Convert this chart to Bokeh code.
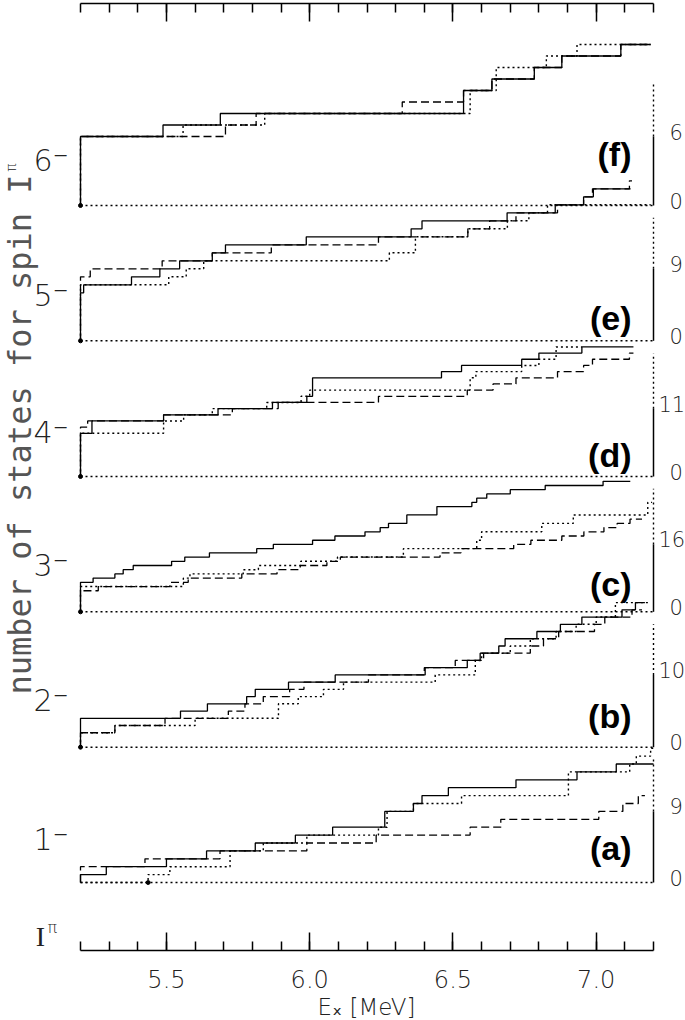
import math
from bokeh.plotting import figure
from bokeh.models import Range1d, LinearAxis, FixedTicker, Label, Title
from bokeh.embed import file_html
from bokeh.resources import INLINE

# ------------------------------------------------------------------ data
E_LOW, E_HIGH = 5.2, 7.2
x_major_ticks = [5.5, 6.0, 6.5, 7.0]
x_tick_labels = ["5.5", "6.0", "6.5", "7.0"]
x_minor_ticks = [5.2, 5.3, 5.4, 5.5, 5.6, 5.7, 5.8, 5.9, 6.0, 6.1, 6.2,
                 6.3, 6.4, 6.5, 6.6, 6.7, 6.8, 6.9, 7.0, 7.1, 7.2]

spin_labels = ["1\u207b", "2\u207b", "3\u207b", "4\u207b", "5\u207b", "6\u207b"]
panel_tags = ["(a)", "(b)", "(c)", "(d)", "(e)", "(f)"]
scale_marks = [9, 10, 16, 11, 9, 6]

# (a) 1-
a_solid_E = [5.2, 5.29, 5.50, 5.64, 5.81, 5.95, 6.08, 6.262, 6.362, 6.392, 6.484, 6.72, 6.933, 7.07]
a_solid_N = [1, 2, 3, 4, 5, 6, 7, 9, 10, 11, 12, 13, 14, 15]
a_solid_end = 7.2
a_dash_E = [5.2, 5.425, 5.687, 5.99, 6.232, 6.56, 6.667, 7.009, 7.093, 7.147]
a_dash_N = [2, 3, 4, 5, 6, 7, 8, 9, 10, 11]
a_dash_end = 7.17
a_dot_E = [5.2, 5.436, 5.512, 5.722, 5.838, 5.99, 6.24, 6.27, 6.362, 6.53, 6.903, 7.117, 7.14, 7.19]
a_dot_N = [0, 1, 2, 4, 5, 6, 7, 9, 10, 11, 14, 15, 16, 17]
a_dot_end = 7.2

# (b) 2-
b_solid_E = [5.2, 5.549, 5.643, 5.78, 5.81, 5.926, 6.089, 6.403, 6.55, 6.595, 6.66, 6.682, 6.793, 6.875, 6.95, 7.09, 7.137]
b_solid_N = [4, 5, 6, 7, 8, 9, 10, 11, 12, 13, 14, 15, 16, 17, 18, 19, 20]
b_solid_end = 7.17
b_dash_E = [5.2, 5.32, 5.495, 5.716, 5.774, 5.838, 5.93, 5.98, 6.205, 6.40, 6.508, 6.607, 6.770, 6.816, 6.869, 6.994, 7.03, 7.125]
b_dash_N = [2, 3, 4, 5, 6, 7, 8, 9, 10, 11, 12, 13, 14, 15, 16, 17, 18, 19]
b_dash_end = 7.16
b_dot_E = [5.2, 5.32, 5.60, 5.891, 5.96, 6.048, 6.118, 6.438, 6.578, 6.60, 6.70, 6.77, 6.86, 6.93, 7.0, 7.067]
b_dot_N = [2, 3, 4, 6, 7, 8, 9, 10, 12, 13, 14, 15, 16, 17, 18, 20]
b_dot_end = 7.19

# (c) 3-
c_solid_E = [5.2, 5.244, 5.32, 5.349, 5.384, 5.518, 5.564, 5.65, 5.815, 5.873, 6.01, 6.088,
             6.193, 6.246, 6.275, 6.339, 6.444, 6.566, 6.583, 6.618, 6.70, 6.822, 7.024]
c_solid_N = [7, 8, 9, 10, 11, 12, 13, 14, 15, 16, 17, 18, 19, 20, 21, 23, 25, 26, 27, 28, 29, 30, 31]
c_solid_end = 7.119
c_dash_E = [5.2, 5.262, 5.512, 5.576, 5.763, 5.886, 5.967, 6.06, 6.107, 6.455, 6.528, 6.712,
            6.772, 6.88, 6.957, 7.027, 7.073, 7.118]
c_dash_N = [5, 6, 7, 8, 9, 10, 11, 12, 13, 14, 15, 16, 17, 18, 19, 20, 21, 22]
c_dash_end = 7.16
c_dot_E = [5.2, 5.559, 5.582, 5.768, 5.821, 5.969, 6.097, 6.327, 6.583, 6.60, 6.81, 6.92, 7.18]
c_dot_N = [6, 8, 9, 10, 11, 12, 13, 15, 17, 19, 21, 23, 26]
c_dot_end = 7.195

# (d) 4-
d_solid_E = [5.2, 5.24, 5.49, 5.68, 5.87, 5.99, 6.01, 6.46, 6.53, 6.74, 6.80, 6.95]
d_solid_N = [7, 9, 10, 11, 12, 13, 16, 17, 18, 19, 20, 21]
d_solid_end = 7.13
d_dash_E = [5.2, 5.225, 5.49, 5.73, 5.89, 6.24, 6.55, 6.64, 6.72, 6.865, 6.956, 6.987, 7.116]
d_dash_N = [8, 9, 10, 11, 12, 13, 14, 15, 16, 17, 18, 19, 20]
d_dash_end = 7.13
d_dot_E = [5.2, 5.49, 5.56, 5.66, 5.85, 5.97, 6.00, 6.56, 6.58, 6.74, 6.80, 6.86]
d_dot_N = [7, 9, 10, 11, 12, 13, 14, 16, 17, 18, 19, 21]
d_dot_end = 6.95

# (e) 5-
e_solid_E = [5.2, 5.211, 5.378, 5.477, 5.546, 5.66, 5.706, 5.988, 6.354, 6.392, 6.689, 6.857, 6.956, 6.99]
e_solid_N = [6, 7, 8, 9, 10, 11, 12, 13, 14, 15, 16, 17, 18, 19]
e_solid_end = 7.12
e_dash_E = [5.2, 5.234, 5.485, 5.66, 5.866, 6.24, 6.552, 6.628, 6.72, 6.865, 6.956, 6.987, 7.116]
e_dash_N = [8, 9, 10, 11, 12, 13, 14, 15, 16, 17, 18, 19, 20]
e_dash_end = 7.125
e_dot_E = [5.2, 5.508, 5.569, 5.63, 6.278, 6.369, 6.552, 6.69, 6.765, 6.83]
e_dot_N = [7, 8, 9, 10, 11, 13, 14, 15, 16, 17]
e_dot_end = 7.19

# (f) 6-
f_solid_E = [5.2, 5.488, 5.688, 6.537, 6.636, 6.784, 6.88, 7.086]
f_solid_N = [6, 7, 8, 10, 11, 12, 13, 14]
f_solid_end = 7.19
f_dash_E = [5.2, 5.706, 5.813, 6.323, 6.537, 6.636, 6.784, 6.88, 7.086]
f_dash_N = [6, 7, 8, 9, 10, 11, 12, 13, 14]
f_dash_end = 7.19
f_dot_E = [5.2, 5.558, 5.843, 6.56, 6.651, 6.826, 6.933]
f_dot_N = [6, 7, 8, 10, 12, 13, 14]
f_dot_end = 7.19

series = [
    (a_solid_E, a_solid_N, a_solid_end, a_dash_E, a_dash_N, a_dash_end, a_dot_E, a_dot_N, a_dot_end),
    (b_solid_E, b_solid_N, b_solid_end, b_dash_E, b_dash_N, b_dash_end, b_dot_E, b_dot_N, b_dot_end),
    (c_solid_E, c_solid_N, c_solid_end, c_dash_E, c_dash_N, c_dash_end, c_dot_E, c_dot_N, c_dot_end),
    (d_solid_E, d_solid_N, d_solid_end, d_dash_E, d_dash_N, d_dash_end, d_dot_E, d_dot_N, d_dot_end),
    (e_solid_E, e_solid_N, e_solid_end, e_dash_E, e_dash_N, e_dash_end, e_dot_E, e_dot_N, e_dot_end),
    (f_solid_E, f_solid_N, f_solid_end, f_dash_E, f_dash_N, f_dash_end, f_dot_E, f_dot_N, f_dot_end),
]

# ------------------------------------------------------------------ layout / style
PAGE_W = 685
FRAME_TOP, FRAME_BOTTOM = 3, 950          # page pixels of the frame
baseline_px = [882, 746.7, 611.3, 476, 340.3, 205]
px_per_state = [7.9, 7.23, 4.21, 6.17, 8.0, 11.5]
spin_label_y = [839, 700, 565, 432, 295, 160]
tag_y = [847, 715, 583, 454, 317, 153]
AXIS_TOP_PX = 123

LIGHT = "DejaVu Sans Light, DejaVu Sans"
TXT = "#222222"


def ex(px):
    """page x pixel -> energy"""
    return E_LOW + (px - 80) * (E_HIGH - E_LOW) / 573.0


p = figure(frame_width=PAGE_W, frame_height=FRAME_BOTTOM - FRAME_TOP,
           x_range=Range1d(ex(0), ex(PAGE_W)), y_range=Range1d(FRAME_BOTTOM, FRAME_TOP),
           output_backend="svg", toolbar_location=None, y_axis_location=None,
           min_border_left=0, min_border_right=0, min_border_top=FRAME_TOP, min_border_bottom=0)
p.outline_line_color = None
p.grid.grid_line_color = None
p.background_fill_color = "white"
p.border_fill_color = "white"


def style_axis(ax):
    ax.ticker = FixedTicker(ticks=x_major_ticks, minor_ticks=x_minor_ticks)
    ax.bounds = (E_LOW, E_HIGH)
    ax.axis_line_color = "black"
    ax.axis_line_width = 1.5
    ax.major_tick_in = 18
    ax.major_tick_out = 0
    ax.minor_tick_in = 9
    ax.minor_tick_out = 0
    ax.major_tick_line_width = 1.5
    ax.minor_tick_line_width = 1.5
    ax.major_tick_line_color = "black"
    ax.minor_tick_line_color = "black"


bottom = p.xaxis[0]
style_axis(bottom)
bottom.major_label_overrides = {t: s for t, s in zip(x_major_ticks, x_tick_labels)}
bottom.major_label_text_font = LIGHT
bottom.major_label_text_font_size = "24px"
bottom.major_label_text_color = TXT
bottom.major_label_standoff = 19

top = LinearAxis()
style_axis(top)
top.major_label_overrides = {t: "" for t in x_major_ticks}
top.major_label_text_font_size = "8px"
top.major_label_standoff = 0
p.add_layout(top, "above")

# x-axis title, centred under the bounded axis
p.add_layout(Title(text="E\u2093 [MeV]", align="left", offset=317, standoff=2,
                   text_font=LIGHT, text_font_size="23px", text_font_style="normal",
                   text_color=TXT), "below")

extra = {}
for k in range(6):
    base, unit = baseline_px[k], px_per_state[k]
    extra["p%d" % k] = Range1d(start=(base - FRAME_BOTTOM) / unit, end=(base - FRAME_TOP) / unit)
p.extra_y_ranges = extra


def stair(E, N, end):
    return [E[0]] + list(E) + [end], [0] + list(N) + [N[-1]]


for k in range(6):
    rn = "p%d" % k
    sE, sN, sEnd, dE, dN, dEnd, oE, oN, oEnd = series[k]
    L = scale_marks[k]
    unit = px_per_state[k]
    # zero line
    p.line([E_LOW, E_HIGH], [0, 0], y_range_name=rn, line_color="black",
           line_width=1.4, line_dash="2 3")
    # right scale bar
    p.line([E_HIGH, E_HIGH], [0, L], y_range_name=rn, line_color="black", line_width=1.5)
    p.line([E_HIGH, E_HIGH], [L, AXIS_TOP_PX / unit], y_range_name=rn,
           line_color="black", line_width=1.4, line_dash="2 3")
    # staircases
    x, y = stair(oE, oN, oEnd)
    p.step(x, y, mode="after", y_range_name=rn, line_color="black", line_width=1.4, line_dash="2 3")
    x, y = stair(dE, dN, dEnd)
    p.step(x, y, mode="after", y_range_name=rn, line_color="black", line_width=1.3, line_dash="8 4")
    x, y = stair(sE, sN, sEnd)
    p.step(x, y, mode="after", y_range_name=rn, line_color="black", line_width=1.3)
    # start marker of dotted series
    first = next(e for e, n in zip(oE, oN) if n > 0)
    p.scatter([first], [0], y_range_name=rn, size=4, color="black")

    # texts
    for val, ypx in ((0, baseline_px[k]), (L, baseline_px[k] - unit * L)):
        s = str(val)
        p.add_layout(Label(x=ex(669 - 11 * (len(s) - 1)), y=ypx - 5, text=s, text_font=LIGHT,
                           text_font_size="21px", text_color=TXT, text_baseline="middle",
                           text_align="left"))
    p.add_layout(Label(x=ex(68), y=spin_label_y[k], text=spin_labels[k], text_font=LIGHT,
                       text_font_size="30px", text_color=TXT, text_baseline="middle",
                       text_align="right"))
    p.add_layout(Label(x=ex(631), y=tag_y[k], text=panel_tags[k], text_font="Liberation Sans",
                       text_font_style="bold", text_font_size="34px", text_color="black",
                       text_baseline="middle", text_align="right"))

# y title (rotated, reading upwards)
p.add_layout(Label(x=ex(19), y=434, text="number of states for spin I", angle=math.pi / 2,
                   text_font="DejaVu Sans Mono", text_font_size="32px", text_color="#555555",
                   text_align="center", text_baseline="middle"))
p.add_layout(Label(x=ex(10), y=167, text="\u03c0", angle=math.pi / 2,
                   text_font=LIGHT, text_font_size="14px", text_color=TXT,
                   text_align="center", text_baseline="middle"))
# I^pi at lower left
p.add_layout(Label(x=ex(40), y=936, text="I", text_font="Liberation Serif",
                   text_font_size="28px", text_color=TXT, text_align="center",
                   text_baseline="middle"))
p.add_layout(Label(x=ex(47), y=927, text="\u03c0", text_font=LIGHT,
                   text_font_size="16px", text_color=TXT, text_align="left",
                   text_baseline="middle"))

open("out.html", "w").write(file_html(p, INLINE))
